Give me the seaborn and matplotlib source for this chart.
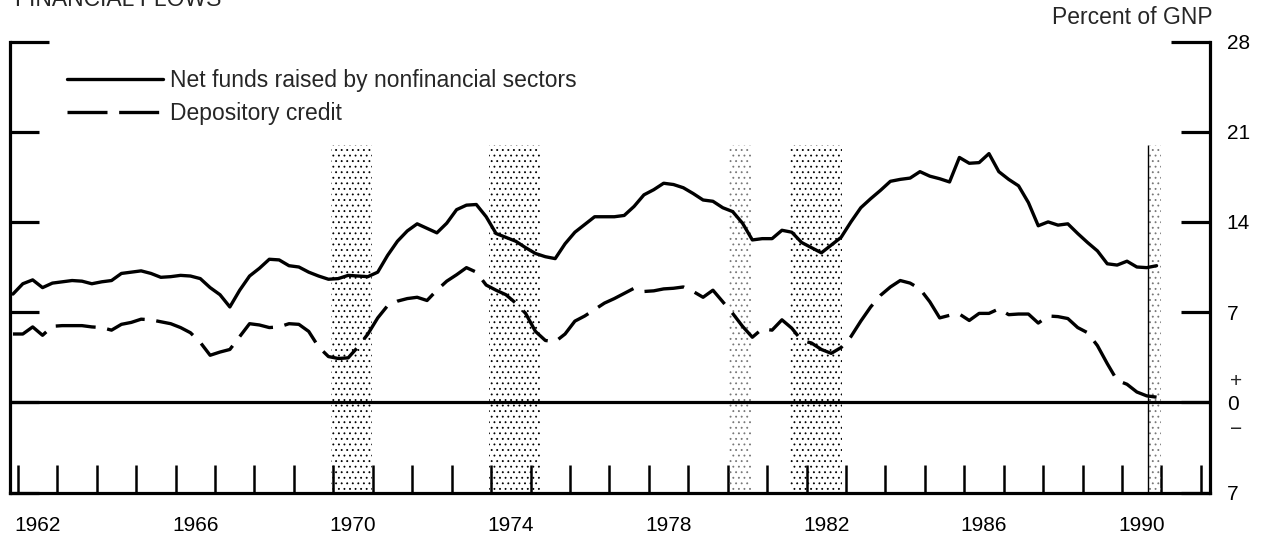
import matplotlib

matplotlib.use("Agg")
import matplotlib.pyplot as plt
import numpy as np
import pandas as pd
import seaborn as sns

# quarterly series, percent of GNP, starting 1961 Q4
first_quarter = 1961.875
net_funds = [
    8.4, 9.2, 9.5, 8.9, 9.25, 9.35, 9.45, 9.4, 9.2, 9.35, 9.45, 10.0, 10.1, 10.2, 10.0, 9.7,
    9.75, 9.85, 9.8, 9.6, 8.9, 8.35, 7.4, 8.7, 9.8, 10.4, 11.1, 11.05, 10.6, 10.5, 10.1, 9.8,
    9.55, 9.6, 9.85, 9.8, 9.75, 10.1, 11.4, 12.5, 13.3, 13.85, 13.5, 13.15, 13.9, 14.95, 15.3, 15.35,
    14.4, 13.1, 12.8, 12.5, 12.0, 11.55, 11.3, 11.15, 12.3, 13.2, 13.8, 14.4, 14.4, 14.4, 14.5, 15.2,
    16.1, 16.5, 17.0, 16.9, 16.65, 16.2, 15.7, 15.6, 15.1, 14.8, 13.9, 12.6, 12.7, 12.7, 13.35, 13.2,
    12.4, 12.0, 11.6, 12.2, 12.8, 14.0, 15.1, 15.8, 16.45, 17.15, 17.3, 17.4, 17.9, 17.55, 17.35, 17.1,
    19.0, 18.55, 18.6, 19.3, 17.9, 17.3, 16.8, 15.5, 13.7, 14.0, 13.75, 13.85, 13.1, 12.4, 11.75, 10.75,
    10.65, 10.95, 10.5, 10.45, 10.6,
]
depository_credit = [
    5.3, 5.3, 5.85, 5.2, 5.9, 5.95, 5.95, 5.95, 5.85, 5.8, 5.6, 6.05, 6.2, 6.45, 6.4, 6.25,
    6.1, 5.8, 5.4, 4.65, 3.65, 3.9, 4.1, 5.1, 6.1, 6.0, 5.8, 5.85, 6.1, 6.05, 5.5, 4.3,
    3.55, 3.4, 3.45, 4.3, 5.3, 6.55, 7.5, 7.85, 8.05, 8.15, 7.9, 8.7, 9.4, 9.9, 10.45, 10.1,
    9.1, 8.7, 8.35, 7.7, 6.9, 5.5, 4.8, 4.7, 5.3, 6.3, 6.7, 7.2, 7.7, 8.05, 8.45, 8.85,
    8.6, 8.65, 8.8, 8.85, 8.95, 8.6, 8.15, 8.7, 7.8, 6.9, 5.9, 5.05, 5.7, 5.6, 6.4, 5.75,
    4.8, 4.6, 4.1, 3.8, 4.25, 5.1, 6.3, 7.4, 8.3, 8.95, 9.45, 9.25, 8.8, 7.8, 6.55, 6.75,
    6.85, 6.35, 6.9, 6.9, 7.25, 6.8, 6.85, 6.85, 6.15, 6.7, 6.65, 6.5, 5.8, 5.4, 4.4, 3.0,
    1.7, 1.4, 0.8, 0.5, 0.4,
]

recession_starts = [1969.93, 1973.95, 1980.02, 1981.58, 1990.66]
recession_ends = [1970.98, 1975.25, 1980.58, 1982.9, 1990.98]
recession_colors = ["black", "black", "#777777", "black", "#777777"]
recession_top = 20

year_ticks = list(range(1962, 1993))
year_labels = ["1962", "1966", "1970", "1974", "1978", "1982", "1986", "1990"]
y_ticks = [-7, 0, 7, 14, 21]
y_tick_labels = ["7", "0", "7", "14", "21"]
y_top = 28

quarters = first_quarter + 0.25 * np.arange(len(net_funds))
df = pd.DataFrame({"date": quarters, "net": net_funds, "dep": depository_credit})

sns.set_theme(style="white")
plt.rcParams["font.family"] = ["Liberation Sans", "DejaVu Sans"]
plt.rcParams["hatch.linewidth"] = 0.6

fig = plt.figure(figsize=(12.63, 5.33), dpi=100, facecolor="white")
ax = fig.add_axes([10 / 1263, 1 - 492.5 / 533, 1200 / 1263, 451 / 533])
ax.set_xlim(1961.8, 1992.23)
ax.set_ylim(-7, y_top)

for start, end, color in zip(recession_starts, recession_ends, recession_colors):
    ax.fill_between([start, end], -7, recession_top, facecolor="none", edgecolor=color,
                    hatch="...", linewidth=0, zorder=1)
ax.vlines(recession_starts[-1], -7, recession_top, color="black", lw=1.0, zorder=2)
ax.axhline(0, color="black", lw=2.3, zorder=2)

sns.lineplot(data=df, x="date", y="net", ax=ax, color="black", lw=2.4, zorder=3,
             label="Net funds raised by nonfinancial sectors")
sns.lineplot(data=df, x="date", y="dep", ax=ax, color="black", lw=2.4, zorder=3,
             linestyle=(0, (12, 3.5)), label="Depository credit")
ax.set_xlabel("")
ax.set_ylabel("")

ax.legend(loc="upper left", bbox_to_anchor=(0.0475, 0.94), frameon=False, fontsize=16.5,
          handlelength=4.2, handletextpad=0.3, borderpad=0, borderaxespad=0, labelspacing=0.47)

for side in ["left", "right", "bottom"]:
    ax.spines[side].set_linewidth(2.3)
    ax.spines[side].set_color("black")
ax.spines["top"].set_visible(False)

ax.set_yticks(y_ticks)
ax.set_yticklabels(y_tick_labels)
ax.set_yticks([y_top], minor=True)
ax.set_yticklabels([str(y_top)], minor=True)
ax.tick_params(axis="y", which="major", left=True, right=True, labelleft=False, labelright=True,
               direction="in", length=21, width=2.3, pad=12, labelsize=15, colors="black")
ax.tick_params(axis="y", which="minor", left=True, right=True, labelleft=False, labelright=True,
               direction="in", length=28, width=2.3, pad=12, labelsize=15, colors="black")
ax.text(1.0217, 1.6, "+", transform=ax.get_yaxis_transform(), ha="center", va="center", fontsize=15)
ax.text(1.0217, -2.1, "\u2212", transform=ax.get_yaxis_transform(), ha="center", va="center", fontsize=15)

ax.set_xticks(year_ticks)
ax.set_xticklabels([])
ax.set_xticks([int(y) + 0.5 for y in year_labels], minor=True)
ax.set_xticklabels(year_labels, minor=True)
ax.tick_params(axis="x", which="major", bottom=True, direction="in", length=20, width=1.8,
               colors="black")
ax.tick_params(axis="x", which="minor", bottom=True, length=0, pad=17, labelsize=15,
               labelcolor="black")

fig.text(15 / 1263, 1 - 6 / 533, "FINANCIAL FLOWS", ha="left", va="baseline", fontsize=16.5)
fig.text(1213 / 1263, 1 - 17 / 533, "Percent of GNP", ha="right", va="center", fontsize=16.5)

fig.savefig("out.png", dpi=100, facecolor="white")
plt.close(fig)
